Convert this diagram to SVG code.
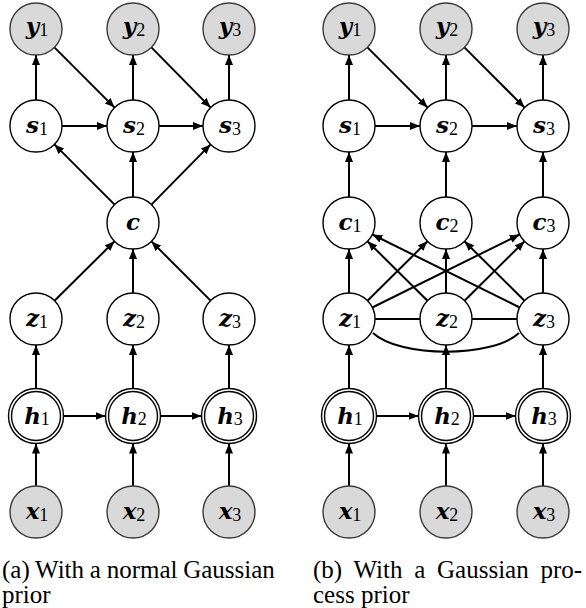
<svg xmlns="http://www.w3.org/2000/svg" width="586" height="608" viewBox="0 0 586 608">
<style>
.n circle{fill:#fff;stroke:#000;stroke-width:1.4}
.o circle{fill:#d9d9d9;stroke:#3a3a3a;stroke-width:1.4}
.lbl{font-family:'Liberation Serif','DejaVu Serif',serif;text-anchor:middle;fill:#000}
.v{font-family:'DejaVu Serif','Liberation Serif',serif;font-weight:bold;font-style:italic;font-size:23px}
.sb{font-size:18px}
.e line,.e path{stroke:#000;stroke-width:2;fill:none}
.a{marker-end:url(#ah)}
.cap{font-family:'Liberation Serif','DejaVu Serif',serif;font-size:25px;fill:#000}
</style>
<defs>
<marker id="ah" markerUnits="userSpaceOnUse" markerWidth="10" markerHeight="8" refX="10" refY="4" orient="auto">
<path d="M0,0 L10,4 L0,8 z" fill="#000"/>
</marker>
</defs>
<g id="edges" class="e">
<line class="a" x1="36" y1="100" x2="36" y2="55"/>
<line class="a" x1="133" y1="100" x2="133" y2="55"/>
<line class="a" x1="229" y1="100" x2="229" y2="55"/>
<line class="a" x1="54.4" y1="47.4" x2="114.6" y2="107.6"/>
<line class="a" x1="151.4" y1="47.4" x2="210.6" y2="107.6"/>
<line class="a" x1="62" y1="126" x2="107" y2="126"/>
<line class="a" x1="159" y1="126" x2="203" y2="126"/>
<line class="a" x1="114.6" y1="204.6" x2="54.4" y2="144.4"/>
<line class="a" x1="133" y1="197" x2="133" y2="152"/>
<line class="a" x1="151.4" y1="204.6" x2="210.6" y2="144.4"/>
<line class="a" x1="54.5" y1="300.7" x2="114.5" y2="241.3"/>
<line class="a" x1="133" y1="293" x2="133" y2="249"/>
<line class="a" x1="210.6" y1="300.6" x2="151.4" y2="241.4"/>
<line class="a" x1="36" y1="388.5" x2="36" y2="345"/>
<line class="a" x1="133" y1="388.5" x2="133" y2="345"/>
<line class="a" x1="229" y1="388.5" x2="229" y2="345"/>
<line class="a" x1="63.5" y1="416" x2="105.5" y2="416"/>
<line class="a" x1="160.5" y1="416" x2="201.5" y2="416"/>
<line class="a" x1="36" y1="486" x2="36" y2="443.5"/>
<line class="a" x1="133" y1="486" x2="133" y2="443.5"/>
<line class="a" x1="229" y1="486" x2="229" y2="443.5"/>
<line class="a" x1="349" y1="100" x2="349" y2="55"/>
<line class="a" x1="446" y1="100" x2="446" y2="55"/>
<line class="a" x1="543" y1="100" x2="543" y2="55"/>
<line class="a" x1="367.4" y1="47.4" x2="427.6" y2="107.6"/>
<line class="a" x1="464.4" y1="47.4" x2="524.6" y2="107.6"/>
<line class="a" x1="375" y1="126" x2="420" y2="126"/>
<line class="a" x1="472" y1="126" x2="517" y2="126"/>
<line class="a" x1="349" y1="197" x2="349" y2="152"/>
<line class="a" x1="446" y1="197" x2="446" y2="152"/>
<line class="a" x1="543" y1="197" x2="543" y2="152"/>
<line class="a" x1="349" y1="293" x2="349" y2="249"/>
<line class="a" x1="446" y1="293" x2="446" y2="249"/>
<line class="a" x1="543" y1="293" x2="543" y2="249"/>
<line class="a" x1="367.5" y1="300.7" x2="427.5" y2="241.3"/>
<line class="a" x1="464.5" y1="300.7" x2="524.5" y2="241.3"/>
<line class="a" x1="427.5" y1="300.7" x2="367.5" y2="241.3"/>
<line class="a" x1="524.5" y1="300.7" x2="464.5" y2="241.3"/>
<line class="a" x1="372.3" y1="307.5" x2="519.7" y2="234.5"/>
<line class="a" x1="519.7" y1="307.5" x2="372.3" y2="234.5"/>
<line x1="375" y1="319" x2="420" y2="319"/>
<line x1="472" y1="319" x2="517" y2="319"/>
<path d="M373,333 C400,358 492,358 519,333"/>
<line class="a" x1="349" y1="388.5" x2="349" y2="345"/>
<line class="a" x1="446" y1="388.5" x2="446" y2="345"/>
<line class="a" x1="543" y1="388.5" x2="543" y2="345"/>
<line class="a" x1="376.5" y1="416" x2="418.5" y2="416"/>
<line class="a" x1="473.5" y1="416" x2="515.5" y2="416"/>
<line class="a" x1="349" y1="486" x2="349" y2="443.5"/>
<line class="a" x1="446" y1="486" x2="446" y2="443.5"/>
<line class="a" x1="543" y1="486" x2="543" y2="443.5"/>
</g>
<g id="a_y1" class="o"><circle cx="36" cy="29" r="26"/><text class="lbl" x="37" y="34"><tspan class="v">y</tspan><tspan class="sb" dy="2">1</tspan></text></g>
<g id="a_y2" class="o"><circle cx="133" cy="29" r="26"/><text class="lbl" x="134" y="34"><tspan class="v">y</tspan><tspan class="sb" dy="2">2</tspan></text></g>
<g id="a_y3" class="o"><circle cx="229" cy="29" r="26"/><text class="lbl" x="230" y="34"><tspan class="v">y</tspan><tspan class="sb" dy="2">3</tspan></text></g>
<g id="a_s1" class="n"><circle cx="36" cy="126" r="26"/><text class="lbl" x="37" y="133"><tspan class="v">s</tspan><tspan class="sb" dy="2">1</tspan></text></g>
<g id="a_s2" class="n"><circle cx="133" cy="126" r="26"/><text class="lbl" x="134" y="133"><tspan class="v">s</tspan><tspan class="sb" dy="2">2</tspan></text></g>
<g id="a_s3" class="n"><circle cx="229" cy="126" r="26"/><text class="lbl" x="230" y="133"><tspan class="v">s</tspan><tspan class="sb" dy="2">3</tspan></text></g>
<g id="a_c" class="n"><circle cx="133" cy="223" r="26"/><text class="lbl" x="133" y="230"><tspan class="v">c</tspan></text></g>
<g id="a_z1" class="n"><circle cx="36" cy="319" r="26"/><text class="lbl" x="37" y="326"><tspan class="v">z</tspan><tspan class="sb" dy="2">1</tspan></text></g>
<g id="a_z2" class="n"><circle cx="133" cy="319" r="26"/><text class="lbl" x="134" y="326"><tspan class="v">z</tspan><tspan class="sb" dy="2">2</tspan></text></g>
<g id="a_z3" class="n"><circle cx="229" cy="319" r="26"/><text class="lbl" x="230" y="326"><tspan class="v">z</tspan><tspan class="sb" dy="2">3</tspan></text></g>
<g id="a_h1" class="n"><circle cx="36" cy="416" r="27.5"/><circle cx="36" cy="416" r="24.5"/><text class="lbl" x="37" y="424"><tspan class="v">h</tspan><tspan class="sb" dy="1">1</tspan></text></g>
<g id="a_h2" class="n"><circle cx="133" cy="416" r="27.5"/><circle cx="133" cy="416" r="24.5"/><text class="lbl" x="134" y="424"><tspan class="v">h</tspan><tspan class="sb" dy="1">2</tspan></text></g>
<g id="a_h3" class="n"><circle cx="229" cy="416" r="27.5"/><circle cx="229" cy="416" r="24.5"/><text class="lbl" x="230" y="424"><tspan class="v">h</tspan><tspan class="sb" dy="1">3</tspan></text></g>
<g id="a_x1" class="o"><circle cx="36" cy="512" r="26"/><text class="lbl" x="37" y="519"><tspan class="v">x</tspan><tspan class="sb" dy="2">1</tspan></text></g>
<g id="a_x2" class="o"><circle cx="133" cy="512" r="26"/><text class="lbl" x="134" y="519"><tspan class="v">x</tspan><tspan class="sb" dy="2">2</tspan></text></g>
<g id="a_x3" class="o"><circle cx="229" cy="512" r="26"/><text class="lbl" x="230" y="519"><tspan class="v">x</tspan><tspan class="sb" dy="2">3</tspan></text></g>
<g id="b_y1" class="o"><circle cx="349" cy="29" r="26"/><text class="lbl" x="350" y="34"><tspan class="v">y</tspan><tspan class="sb" dy="2">1</tspan></text></g>
<g id="b_y2" class="o"><circle cx="446" cy="29" r="26"/><text class="lbl" x="447" y="34"><tspan class="v">y</tspan><tspan class="sb" dy="2">2</tspan></text></g>
<g id="b_y3" class="o"><circle cx="543" cy="29" r="26"/><text class="lbl" x="544" y="34"><tspan class="v">y</tspan><tspan class="sb" dy="2">3</tspan></text></g>
<g id="b_s1" class="n"><circle cx="349" cy="126" r="26"/><text class="lbl" x="350" y="133"><tspan class="v">s</tspan><tspan class="sb" dy="2">1</tspan></text></g>
<g id="b_s2" class="n"><circle cx="446" cy="126" r="26"/><text class="lbl" x="447" y="133"><tspan class="v">s</tspan><tspan class="sb" dy="2">2</tspan></text></g>
<g id="b_s3" class="n"><circle cx="543" cy="126" r="26"/><text class="lbl" x="544" y="133"><tspan class="v">s</tspan><tspan class="sb" dy="2">3</tspan></text></g>
<g id="b_c1" class="n"><circle cx="349" cy="223" r="26"/><text class="lbl" x="350" y="230"><tspan class="v">c</tspan><tspan class="sb" dy="2">1</tspan></text></g>
<g id="b_c2" class="n"><circle cx="446" cy="223" r="26"/><text class="lbl" x="447" y="230"><tspan class="v">c</tspan><tspan class="sb" dy="2">2</tspan></text></g>
<g id="b_c3" class="n"><circle cx="543" cy="223" r="26"/><text class="lbl" x="544" y="230"><tspan class="v">c</tspan><tspan class="sb" dy="2">3</tspan></text></g>
<g id="b_z1" class="n"><circle cx="349" cy="319" r="26"/><text class="lbl" x="350" y="326"><tspan class="v">z</tspan><tspan class="sb" dy="2">1</tspan></text></g>
<g id="b_z2" class="n"><circle cx="446" cy="319" r="26"/><text class="lbl" x="447" y="326"><tspan class="v">z</tspan><tspan class="sb" dy="2">2</tspan></text></g>
<g id="b_z3" class="n"><circle cx="543" cy="319" r="26"/><text class="lbl" x="544" y="326"><tspan class="v">z</tspan><tspan class="sb" dy="2">3</tspan></text></g>
<g id="b_h1" class="n"><circle cx="349" cy="416" r="27.5"/><circle cx="349" cy="416" r="24.5"/><text class="lbl" x="350" y="424"><tspan class="v">h</tspan><tspan class="sb" dy="1">1</tspan></text></g>
<g id="b_h2" class="n"><circle cx="446" cy="416" r="27.5"/><circle cx="446" cy="416" r="24.5"/><text class="lbl" x="447" y="424"><tspan class="v">h</tspan><tspan class="sb" dy="1">2</tspan></text></g>
<g id="b_h3" class="n"><circle cx="543" cy="416" r="27.5"/><circle cx="543" cy="416" r="24.5"/><text class="lbl" x="544" y="424"><tspan class="v">h</tspan><tspan class="sb" dy="1">3</tspan></text></g>
<g id="b_x1" class="o"><circle cx="349" cy="512" r="26"/><text class="lbl" x="350" y="519"><tspan class="v">x</tspan><tspan class="sb" dy="2">1</tspan></text></g>
<g id="b_x2" class="o"><circle cx="446" cy="512" r="26"/><text class="lbl" x="447" y="519"><tspan class="v">x</tspan><tspan class="sb" dy="2">2</tspan></text></g>
<g id="b_x3" class="o"><circle cx="543" cy="512" r="26"/><text class="lbl" x="544" y="519"><tspan class="v">x</tspan><tspan class="sb" dy="2">3</tspan></text></g>
<g id="caption_a">
<text class="cap" x="2" y="578" word-spacing="-0.5">(a) With a normal Gaussian</text>
<text class="cap" x="2" y="603">prior</text>
</g>
<g id="caption_b">
<text class="cap" x="313" y="578" word-spacing="5.5">(b) With a Gaussian pro-</text>
<text class="cap" x="313" y="603">cess prior</text>
</g>
</svg>
